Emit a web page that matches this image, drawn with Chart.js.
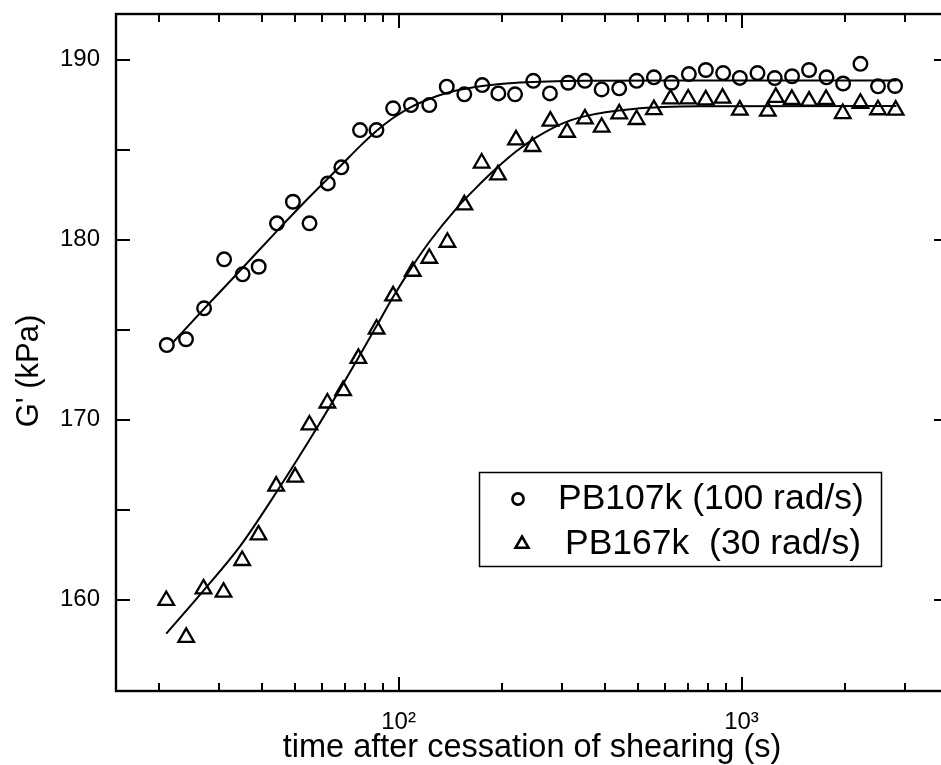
<!DOCTYPE html>
<html>
<head>
<meta charset="utf-8">
<script src="https://cdn.jsdelivr.net/npm/chart.js@4.4.0/dist/chart.umd.min.js"></script>
<style>
  html, body { margin: 0; padding: 0; background: #fff; overflow: hidden; }
  #wrap { width: 941px; height: 765px; overflow: hidden; }
  canvas { display: block; }
</style>
</head>
<body>
<div id="wrap"><canvas id="chart" width="960" height="765"></canvas></div>
<script>
// meetpunten PB107k (100 rad/s), open cirkels
const pb107Time = [21.1, 24.0, 27.1, 31.0, 35.1, 39.1, 44.2, 49.2, 55.0, 62.2, 68.1, 77.2, 86.2, 96.4,
  108.7, 122.9, 138.2, 155.5, 175.4, 195.4, 218.6, 247.1, 276.3, 312.5, 349.4, 391.0, 439.9, 494.4,
  555.3, 625.2, 702.2, 787, 884, 988.6, 1113, 1250, 1404, 1574, 1769, 1978, 2222, 2500, 2803];
const pb107G = [174.14, 174.46, 176.18, 178.9, 178.07, 178.49, 180.9, 182.1, 180.9, 183.12, 184.01, 186.08,
  186.08, 187.29, 187.47, 187.47, 188.49, 188.07, 188.58, 188.12, 188.07, 188.82, 188.12, 188.71, 188.82,
  188.34, 188.4, 188.82, 189.01, 188.71, 189.19, 189.42, 189.25, 188.98, 189.25, 188.97, 189.07, 189.42,
  189.01, 188.67, 189.76, 188.51, 188.53];

// meetpunten PB167k (30 rad/s), open driehoeken
const pb167Time = [21.02, 24.03, 26.99, 30.87, 34.99, 39.04, 43.97, 49.94, 54.97, 62.0, 68.93, 76.35, 86.3,
  96.4, 110.0, 122.9, 138.8, 155.5, 174.7, 194.9, 220.0, 245.6, 277.1, 310.0, 349.4, 391.0, 439.9, 494.4,
  555.3, 620.9, 698.9, 786.4, 880.3, 988.6, 1193, 1259, 1402, 1574, 1764, 1973, 2222, 2500, 2815];
const pb167G = [159.95, 157.9, 160.59, 160.41, 162.17, 163.59, 166.3, 166.8, 169.7, 170.92, 171.61, 173.4,
  175.03, 176.87, 178.24, 178.96, 179.85, 181.93, 184.25, 183.59, 185.54, 185.17, 186.58, 185.96, 186.7,
  186.24, 186.98, 186.67, 187.22, 187.81, 187.81, 187.76, 187.86, 187.19, 187.13, 187.9, 187.79, 187.69,
  187.79, 187.0, 187.57, 187.21, 187.19];

const fit107Time = [22.07, 27.06, 35.07, 44.17, 54.97, 68.15, 77.23, 86.16, 96.38, 108.7, 122.9, 138.2,
  155.2, 175.4, 226, 349.4, 756.5, 2829];
const fit107G = [174.32, 176.14, 178.42, 180.47, 182.36, 184.14, 185.19, 186.03, 186.75, 187.36, 187.81,
  188.14, 188.36, 188.53, 188.72, 188.82, 188.84, 188.84];
const fit167Time = [21.02, 26.99, 34.52, 44.17, 57.76, 67.52, 76.35, 86.41, 96.56, 109.3, 123.5, 147.8,
  165.2, 193.2, 221.0, 252.7, 302.1, 345.5, 483.3, 756, 2829];
const fit167G = [158.11, 160.5, 162.97, 166.0, 169.53, 171.69, 173.44, 175.22, 176.83, 178.47, 179.92,
  181.75, 182.72, 183.97, 184.92, 185.69, 186.47, 186.83, 187.25, 187.4, 187.42];

// asindeling
const xMajorTicks = [100, 1000];
const xMinorTicks = [20, 30, 40, 50, 60, 70, 80, 90, 200, 300, 400, 500, 600, 700, 800, 900, 2000, 3000];
const yTicks = [160, 165, 170, 175, 180, 185, 190];
const yLabelTicks = [160, 170, 180, 190];

const labels = ['PB107k (100 rad/s)', 'PB167k  (30 rad/s)'];

const toPoints = (xs, ys) => xs.map((x, i) => ({ x: x, y: ys[i] }));

Chart.defaults.font.family = "'Liberation Sans', Arial, sans-serif";
Chart.defaults.color = '#000';

// kader met tickjes naar binnen, zoals in Origin
const frameTicks = {
  id: 'frameTicks',
  afterDatasetsDraw(chart) {
    const { ctx, chartArea: a, scales: { x, y } } = chart;
    ctx.save();
    ctx.strokeStyle = '#000';
    ctx.lineWidth = 2;
    ctx.beginPath();
    const xTick = (v, len) => {
      const px = Math.round(x.getPixelForValue(v));
      ctx.moveTo(px, a.bottom); ctx.lineTo(px, a.bottom - len);
      ctx.moveTo(px, a.top); ctx.lineTo(px, a.top + len);
    };
    xMajorTicks.forEach(v => xTick(v, 14));
    xMinorTicks.forEach(v => xTick(v, 8));
    yTicks.forEach(v => {
      const py = Math.round(y.getPixelForValue(v));
      ctx.moveTo(a.left, py); ctx.lineTo(a.left + 14, py);
    });
    yLabelTicks.forEach(v => {
      const py = Math.round(y.getPixelForValue(v));
      ctx.moveTo(a.right, py); ctx.lineTo(a.right - 14, py);
    });
    ctx.stroke();
    ctx.lineWidth = 2.4;
    ctx.strokeRect(a.left, a.top, a.right - a.left, a.bottom - a.top);
    ctx.restore();
  }
};

// legenda in een kader + y-astitel
const legendBox = {
  id: 'legendBox',
  afterDraw(chart) {
    const ctx = chart.ctx;
    ctx.save();
    ctx.strokeStyle = '#000';
    ctx.lineWidth = 1.5;
    ctx.strokeRect(479.5, 472.5, 402, 94);

    const rows = [
      { ds: 0, mx: 518, my: 499, tx: 558, radius: 5.6 },
      { ds: 1, mx: 522, my: 544, tx: 565, radius: 7.5 }
    ];
    ctx.textBaseline = 'middle';
    ctx.textAlign = 'left';
    rows.forEach(r => {
      const ds = chart.data.datasets[r.ds];
      ctx.lineWidth = 2.6;
      ctx.strokeStyle = '#000';
      ctx.fillStyle = 'rgba(0,0,0,0)';
      Chart.helpers.drawPoint(ctx, { pointStyle: ds.pointStyle, radius: r.radius, rotation: 0, borderWidth: 2.6 }, r.mx, r.my);
      ctx.fillStyle = '#000';
      ctx.font = "35.5px 'Liberation Sans', Arial, sans-serif";
      ctx.fillText(ds.label, r.tx, r.my);
    });

    ctx.translate(29, 371);
    ctx.rotate(-Math.PI / 2);
    ctx.textAlign = 'center';
    ctx.font = "31px 'Liberation Sans', Arial, sans-serif";
    ctx.fillText("G' (kPa)", 0, 0);
    ctx.restore();
  }
};

new Chart(document.getElementById('chart').getContext('2d'), {
  type: 'scatter',
  data: {
    datasets: [
      {
        label: labels[0],
        data: toPoints(pb107Time, pb107G),
        pointStyle: 'circle',
        pointRadius: 6.8,
        pointBorderWidth: 2.4,
        borderColor: '#000',
        backgroundColor: 'rgba(0,0,0,0)'
      },
      {
        label: labels[1],
        data: toPoints(pb167Time, pb167G),
        pointStyle: 'triangle',
        pointRadius: 9,
        pointBorderWidth: 2.3,
        borderColor: '#000',
        backgroundColor: 'rgba(0,0,0,0)'
      },
      {
        label: 'fit PB107k',
        data: toPoints(fit107Time, fit107G),
        showLine: true,
        pointRadius: 0,
        borderWidth: 2,
        borderColor: '#000',
        cubicInterpolationMode: 'monotone'
      },
      {
        label: 'fit PB167k',
        data: toPoints(fit167Time, fit167G),
        showLine: true,
        pointRadius: 0,
        borderWidth: 2,
        borderColor: '#000',
        cubicInterpolationMode: 'monotone'
      }
    ]
  },
  options: {
    responsive: false,
    animation: false,
    layout: { padding: { top: 14, right: 12, left: 0, bottom: 0 } },
    plugins: { legend: { display: false }, tooltip: { enabled: false } },
    scales: {
      x: {
        type: 'logarithmic',
        min: 15,
        max: 4000,
        grid: { display: false, drawTicks: false },
        border: { display: false },
        afterBuildTicks: (scale) => {
          scale.ticks = xMinorTicks.concat(xMajorTicks).sort((a, b) => a - b).map(v => ({ value: v }));
        },
        afterFit: (scale) => {
          scale.height = 74;
          scale.paddingLeft = 0;
          scale.paddingRight = 0;
        },
        ticks: {
          autoSkip: false,
          maxRotation: 0,
          padding: 17,
          font: { size: 24 },
          callback: (v) => (v === 100 ? '10\u00B2' : v === 1000 ? '10\u00B3' : '')
        },
        title: {
          display: true,
          text: 'time after cessation of shearing (s)',
          font: { size: 32.5, lineHeight: 1 },
          padding: { top: 0, bottom: 1 }
        }
      },
      y: {
        min: 154.92,
        max: 192.53,
        grid: { display: false, drawTicks: false },
        border: { display: false },
        afterBuildTicks: (scale) => {
          scale.ticks = yTicks.map(v => ({ value: v }));
        },
        afterFit: (scale) => {
          scale.width = 116;
          scale.paddingTop = 0;
          scale.paddingBottom = 0;
        },
        ticks: {
          autoSkip: false,
          padding: 16,
          font: { size: 24 },
          callback: (v) => (v % 10 === 0 ? String(v) : '')
        }
      }
    }
  },
  plugins: [frameTicks, legendBox]
});
</script>
</body>
</html>
